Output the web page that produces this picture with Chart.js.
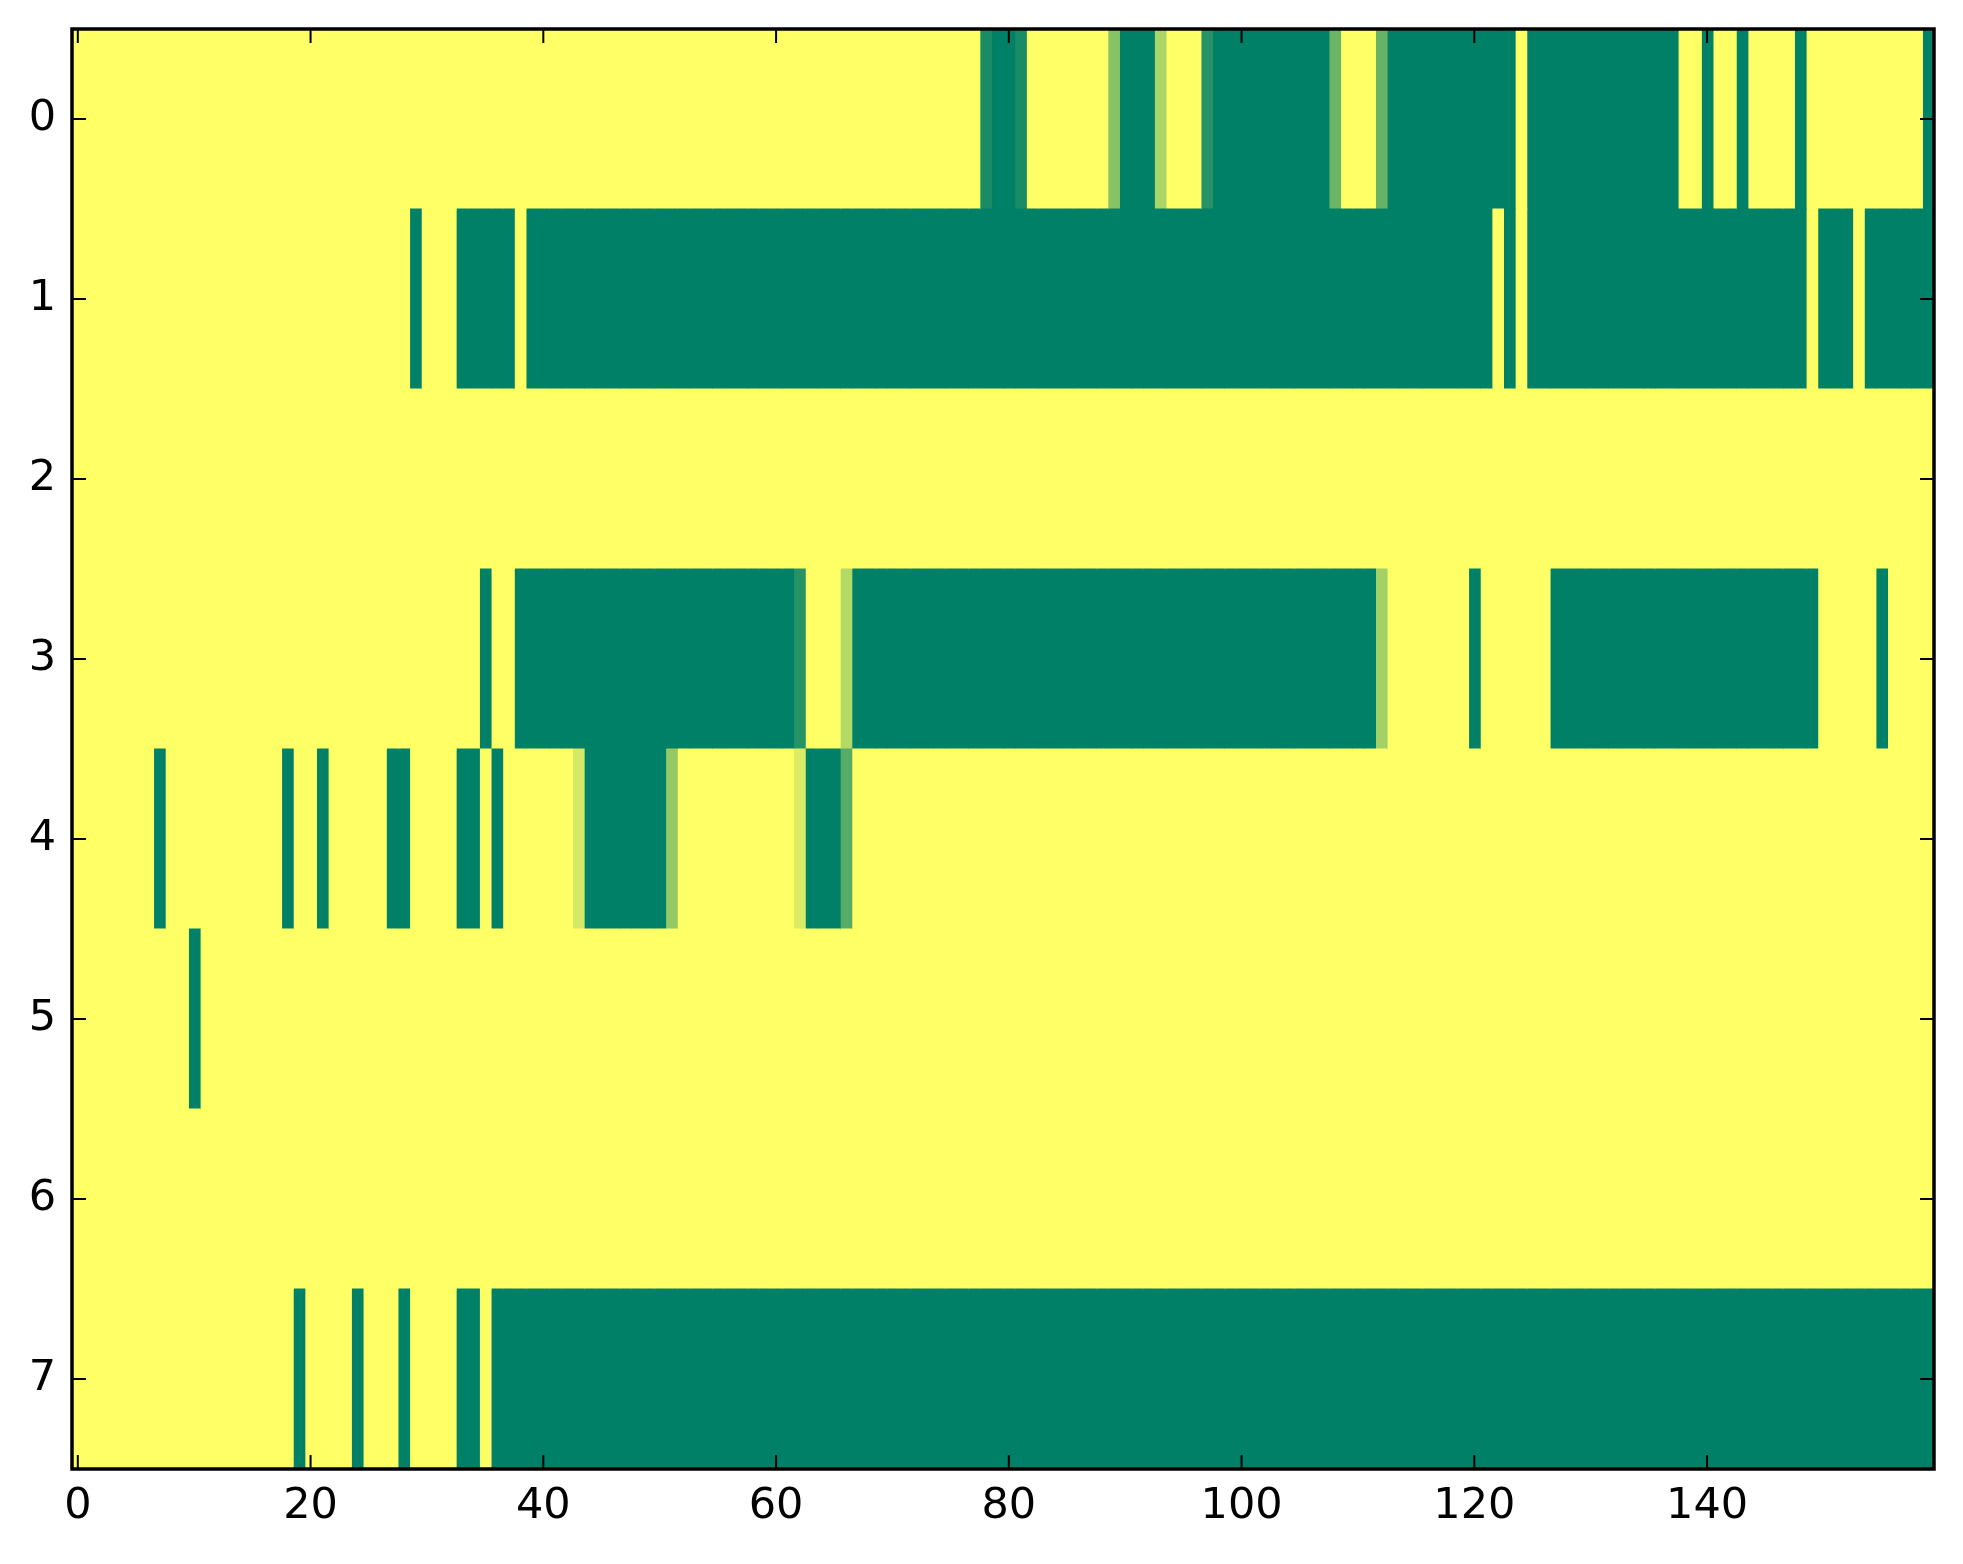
<!DOCTYPE html>
<html>
<head>
<meta charset="utf-8">
<script src="https://cdn.jsdelivr.net/npm/chart.js@4/dist/chart.umd.min.js"></script>
<style>
  html, body { margin: 0; padding: 0; background: #fff; }
  #wrap { width: 1963px; height: 1564px; }
</style>
</head>
<body>
<div id="wrap"><canvas id="chart" width="1963" height="1564"></canvas></div>
<script>
// filas y columnas de la imagen
const rowLabels = ["0", "1", "2", "3", "4", "5", "6", "7"];
const xTickValues = [0, 20, 40, 60, 80, 100, 120, 140];
const nCols = 160;

// tramos [desde, hasta, valor] por fila; el resto vale 0
const row0 = [[78, 78, 0.9], [79, 80, 1], [81, 81, 0.9], [89, 89, 0.47], [90, 92, 1], [93, 93, 0.33],
  [97, 97, 0.85], [98, 107, 1], [108, 108, 0.58], [112, 112, 0.6], [113, 123, 1], [125, 137, 1],
  [140, 140, 1], [143, 143, 1], [148, 148, 1], [159, 159, 1]];
const row1 = [[29, 29, 1], [33, 37, 1], [39, 121, 1], [123, 123, 1], [125, 148, 1], [150, 152, 1], [154, 159, 1]];
const row2 = [];
const row3 = [[35, 35, 1], [38, 61, 1], [62, 62, 0.85], [66, 66, 0.3], [67, 111, 1], [112, 112, 0.36],
  [120, 120, 1], [127, 149, 1], [155, 155, 1]];
const row4 = [[7, 7, 1], [18, 18, 1], [21, 21, 1], [27, 28, 1], [33, 34, 1], [36, 36, 1], [43, 43, 0.17],
  [44, 50, 1], [51, 51, 0.42], [62, 62, 0.14], [63, 65, 1], [66, 66, 0.66]];
const row5 = [[10, 10, 1]];
const row6 = [];
const row7 = [[19, 19, 1], [24, 24, 1], [28, 28, 1], [33, 34, 1], [36, 159, 1]];

const rows = [row0, row1, row2, row3, row4, row5, row6, row7];

// matriz completa
const grid = rows.map(runs => {
  const line = new Array(nCols).fill(0);
  runs.forEach(([a, b, v]) => { for (let c = a; c <= b; c++) line[c] = v; });
  return line;
});

// mapa de color summer_r
function summerR(v) {
  const x = 1 - v;
  const r = Math.round(255 * x);
  const g = Math.round(255 * (0.5 + 0.5 * x));
  const b = Math.round(255 * 0.4);
  return `rgb(${r},${g},${b})`;
}

const datasets = [];
for (let c = 0; c < nCols; c++) {
  datasets.push({
    data: rowLabels.map(() => [c - 0.5, c + 0.5]),
    backgroundColor: rowLabels.map((_, r) => summerR(grid[r][c])),
    borderWidth: 0,
    inflateAmount: 0.6,
    grouped: false,
    barPercentage: 1,
    categoryPercentage: 1
  });
}

// marco y marcas hacia dentro, en los cuatro lados
const framePlugin = {
  id: "frame",
  afterDraw(chart) {
    const { ctx, chartArea: a, scales } = chart;
    const len = 14;
    ctx.save();
    ctx.strokeStyle = "#000";
    ctx.lineWidth = 2;
    ctx.beginPath();
    scales.x.ticks.forEach(t => {
      const px = scales.x.getPixelForValue(t.value);
      ctx.moveTo(px, a.bottom); ctx.lineTo(px, a.bottom - len);
      ctx.moveTo(px, a.top); ctx.lineTo(px, a.top + len);
    });
    scales.y.ticks.forEach((t, i) => {
      const py = scales.y.getPixelForTick(i);
      ctx.moveTo(a.left, py); ctx.lineTo(a.left + len, py);
      ctx.moveTo(a.right, py); ctx.lineTo(a.right - len, py);
    });
    ctx.stroke();
    ctx.lineWidth = 3.5;
    ctx.strokeRect(a.left, a.top, a.right - a.left, a.bottom - a.top);
    ctx.restore();
  }
};

const tickFont = { family: "DejaVu Sans", size: 43 };

new Chart(document.getElementById("chart").getContext("2d"), {
  type: "bar",
  data: { labels: rowLabels, datasets: datasets },
  options: {
    indexAxis: "y",
    responsive: false,
    devicePixelRatio: 1,
    animation: false,
    layout: { padding: { top: 29, right: 29, left: 0, bottom: 0 } },
    plugins: { legend: { display: false }, tooltip: { enabled: false } },
    scales: {
      x: {
        type: "linear",
        min: -0.5,
        max: nCols - 0.5,
        grid: { display: false, drawTicks: false },
        border: { display: false },
        afterBuildTicks: s => { s.ticks = xTickValues.map(v => ({ value: v })); },
        afterFit: s => { s.height = 95; s.paddingLeft = 0; s.paddingRight = 0; },
        ticks: { font: tickFont, color: "#000", padding: 12, maxRotation: 0, autoSkip: false }
      },
      y: {
        type: "category",
        offset: true,
        grid: { display: false, drawTicks: false },
        border: { display: false },
        afterFit: s => { s.width = 72; s.paddingTop = 0; s.paddingBottom = 0; },
        ticks: { font: tickFont, color: "#000", padding: 16 }
      }
    }
  },
  plugins: [framePlugin]
});
</script>
</body>
</html>
